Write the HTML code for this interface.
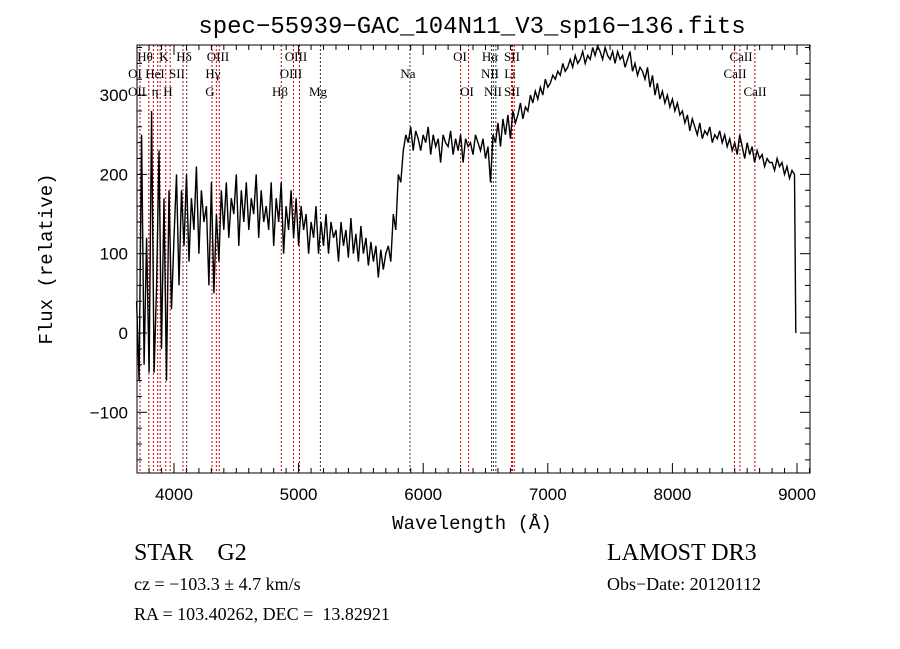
<!DOCTYPE html>
<html><head><meta charset="utf-8"><style>
body{margin:0;background:#fff;}
svg{display:block;font-family:"Liberation Serif",serif;}
text{white-space:pre;}
</style></head><body>
<svg id="c" width="900" height="649" viewBox="0 0 900 649"></svg>
<script>
const lamStart=3700, lamStep=20;
const flux=[40,-60,250,-40,120,-50,280,-50,60,230,-20,170,-60,180,30,
120,200,60,180,110,200,90,170,130,210,100,180,140,160,60,190,50,150,90,180,
130,190,120,170,150,200,110,180,140,190,130,170,150,200,120,180,140,160,130,190,
110,170,140,190,100,160,130,180,120,170,110,160,130,150,100,140,120,160,100,140,
110,150,100,140,120,130,90,140,110,130,95,145,100,125,90,135,100,120,85,115,
90,110,70,105,80,100,110,90,150,130,200,190,230,250,240,260,230,255,245,230,
250,240,260,225,250,235,245,215,250,240,235,255,225,245,230,250,215,245,235,240,
225,250,240,230,245,220,235,190,250,240,265,235,270,250,275,245,280,265,275,290,
270,285,280,300,290,305,295,310,300,320,310,315,325,320,330,325,340,330,335,345,
335,350,340,345,355,340,350,345,360,350,365,355,345,360,350,345,355,340,355,345,
350,335,345,355,330,340,325,335,330,320,335,310,325,300,315,295,305,290,300,285,
295,280,290,275,280,265,275,255,270,260,250,265,245,255,250,260,240,250,245,255,
240,250,235,245,230,240,225,250,235,220,240,225,235,215,230,220,225,210,220,215,
215,205,220,210,215,200,210,195,205,200,0];
const xTicks=[4000,5000,6000,7000,8000,9000];
const yTicks=[-100,0,100,200,300];
const lineLams=[3727,3798,3835,3869,3889,3934,3969,4072,4102,4305,4340,4363,4861,4959,5007,5175,5894,6300,6364,6548,6563,6583,6708,6716,6731,8498,8542,8662];
const lineBlack=[0,0,0,0,0,0,0,0,1,0,0,0,0,0,0,1,1,0,0,1,1,1,0,0,0,0,0,0];
const labels=[["Hθ",145,57],["K",164,57],["Hδ",184,57],["OIII",218,57],["OIII",296,57],["OI",135,74],["HeI",155,74],["SII",177,74],["Hγ",213,74],["OIII",291,74],["OII",137,92],["η",155,92],["H",168,92],["G",210,92],["Hβ",280,92],["Mg",318,92],["Na",408,74],["OI",460,57],["OI",467,92],["Hα",490,57],["SII",512,57],["NII",490,74],["Li",510,74],["NII",493,92],["SII",512,92],["CaII",741,57],["CaII",735,74],["CaII",755,92]];
const X0=137,X1=810,Y0=45,Y1=473;
const xs=l=>174+(l-4000)*0.1246;
const ys=f=>333-f*0.793;
const svg=document.getElementById('c');
const NS="http://www.w3.org/2000/svg";
function mk(t,a,txt){const e=document.createElementNS(NS,t);for(const k in a)e.setAttribute(k,a[k]);if(txt!=null)e.textContent=txt;svg.appendChild(e);return e;}
lineLams.forEach((l,i)=>{const e=mk('line',{x1:xs(l),x2:xs(l),y1:Y0,y2:Y1,stroke:lineBlack[i]?'#333':'#c00','stroke-width':1,'stroke-dasharray':'2,2'});

});
labels.forEach(d=>{const e=mk('text',{x:d[1],y:d[2]+4,'font-size':13,'text-anchor':'middle',fill:'#000'},d[0]);

});
const pts=flux.map((f,i)=>{const l=i===flux.length-1?8990:lamStart+i*lamStep;return xs(l).toFixed(1)+','+ys(Math.max(-170,Math.min(362,f))).toFixed(1);}).join(' ');
const sp=mk('polyline',{points:pts,fill:'none',stroke:'#000','stroke-width':1.4});


const fr=mk('rect',{x:X0,y:Y0,width:X1-X0,height:Y1-Y0,fill:'none',stroke:'#000','stroke-width':1});


for(let l=3800;l<=9100;l+=100){const maj=l%1000===0;const x=xs(l);
mk('line',{x1:x,x2:x,y1:Y1,y2:Y1-(maj?10:5),stroke:'#000'});mk('line',{x1:x,x2:x,y1:Y0,y2:Y0+(maj?10:5),stroke:'#000'});}
for(let f=-160;f<=360;f+=20){const maj=f%100===0;const y=ys(f);
mk('line',{x1:X0,x2:X0+(maj?10:5),y1:y,y2:y,stroke:'#000'});mk('line',{x1:X1,x2:X1-(maj?10:5),y1:y,y2:y,stroke:'#000'});}
xTicks.forEach(t=>{const e=mk('text',{x:xs(t),y:500,'font-size':17,'text-anchor':'middle','font-family':'Liberation Sans, sans-serif'},t);

});
yTicks.forEach(t=>{const e=mk('text',{x:128,y:ys(t)+6,'font-size':17,'text-anchor':'end','font-family':'Liberation Sans, sans-serif'},t===-100?'\u2212100':t);

});
function txt(name,a,s){const e=mk('text',a,s);}
txt('chart-title',{x:472,y:33,'font-size':24,'text-anchor':'middle','font-family':'Liberation Mono, monospace'},'spec\u221255939\u2212GAC_104N11_V3_sp16\u2212136.fits');
txt('x-axis-title',{x:472,y:529,'font-size':19,'text-anchor':'middle','font-family':'Liberation Mono, monospace'},'Wavelength (\u00c5)');
txt('y-axis-title',{x:52,y:259,'font-size':19,'text-anchor':'middle','font-family':'Liberation Mono, monospace',transform:'rotate(-90 52 259)'},'Flux (relative)');
txt('object-class',{x:134,y:560,'font-size':24},'STAR    G2');
txt('survey-name',{x:607,y:560,'font-size':24},'LAMOST DR3');
txt('redshift-info',{x:134,y:590,'font-size':18},'cz = \u2212103.3 \u00b1 4.7 km/s');
txt('obs-date',{x:607,y:590,'font-size':18},'Obs\u2212Date: 20120112');
txt('coordinates',{x:134,y:620,'font-size':18},'RA = 103.40262, DEC =  13.82921');
</script>
</body></html>
